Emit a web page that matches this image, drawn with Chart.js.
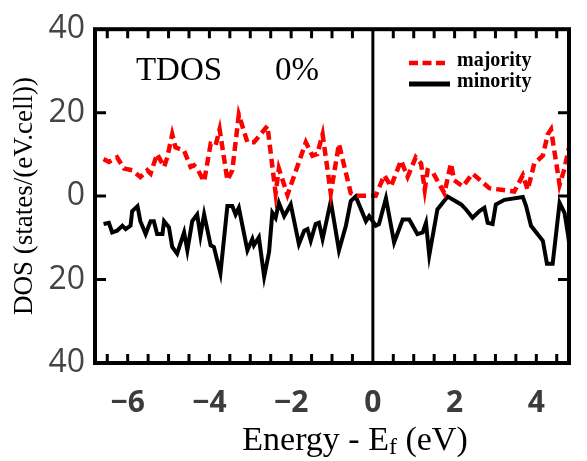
<!DOCTYPE html>
<html>
<head>
<meta charset="utf-8">
<script src="https://cdn.jsdelivr.net/npm/chart.js@4"></script>
<style>
  html, body { margin: 0; padding: 0; background: #fff; }
  #wrap { width: 587px; height: 461px; }
</style>
</head>
<body>
<div id="wrap"><canvas id="dos"></canvas></div>
<script>
// majority spin (red dashed), energy in eV, DOS in states/(eV.cell)
const majE = [-6.59, -6.46, -6.26, -6.09, -5.89, -5.69, -5.52, -5.44, -5.28, -5.11, -5.03, -4.91, -4.83, -4.62,
  -4.46, -4.38, -4.30, -4.13, -3.97, -3.85, -3.75, -3.56, -3.44, -3.28, -3.07, -2.91, -2.58, -2.38, -2.30,
  -2.09, -1.64, -1.48, -1.36, -1.23, -1.03, -0.83, -0.54, -0.42, 0.07, 0.28, 0.44, 0.69, 0.85, 1.05, 1.18,
  1.27, 1.34, 1.46, 1.75, 1.91, 1.99, 2.20, 2.44, 2.85, 3.14, 3.46, 3.67, 3.79, 3.95, 4.16, 4.28, 4.36,
  4.57, 4.69, 4.78, 4.80];
const majDos = [8.9, 8.2, 9.3, 6.6, 6.2, 4.6, 6.2, 5.4, 10.1, 7.0, 9.3, 14.8, 11.7, 10.9,
  7.0, 7.4, 6.6, 3.5, 12.5, 12.1, 16.0, 3.8, 6.2, 19.5, 12.9, 12.9, 16.8, 0.7, 6.6,
  0.3, 12.9, 9.7, 10.1, 14.8, 0.7, 12.5, 0.7, 0.1, 0.1, 5.0, 2.3, 8.5, 4.6, 9.3, 7.8,
  1.5, 6.2, 5.8, 0.7, 7.8, 3.8, 2.3, 5.4, 1.9, 1.5, 1.1, 5.0, 1.5, 7.8, 9.7, 14.8, 16.0,
  2.7, 6.6, 10.9, 11.5];

// minority spin (black solid), plotted downward
const minE = [-6.59, -6.46, -6.38, -6.26, -6.13, -6.05, -5.93, -5.89, -5.76, -5.69, -5.56, -5.44, -5.36, -5.28,
  -5.15, -5.11, -4.99, -4.91, -4.79, -4.62, -4.54, -4.42, -4.30, -4.22, -4.13, -3.97, -3.89, -3.73, -3.56,
  -3.44, -3.36, -3.28, -3.07, -2.95, -2.91, -2.79, -2.66, -2.54, -2.46, -2.38, -2.30, -2.17, -2.01, -1.81,
  -1.68, -1.60, -1.52, -1.40, -1.32, -1.23, -1.03, -0.83, -0.66, -0.54, -0.42, -0.17, -0.09, 0.07, 0.15,
  0.32, 0.52, 0.73, 0.89, 1.09, 1.22, 1.30, 1.38, 1.58, 1.83, 2.16, 2.28, 2.44, 2.61, 2.73, 2.81, 2.93,
  3.01, 3.22, 3.67, 3.75, 3.87, 4.16, 4.26, 4.40, 4.57, 4.69, 4.78, 4.80];
const minDos = [-6.7, -6.4, -8.7, -8.3, -7.1, -7.9, -7.1, -3.6, -2.4, -6.0, -9.1, -6.0, -6.0, -9.1,
  -9.1, -6.0, -7.5, -12.2, -13.8, -8.7, -13.0, -6.0, -4.4, -9.5, -4.4, -11.8, -12.2, -18.5, -2.4,
  -2.4, -4.4, -2.8, -13.0, -10.3, -11.8, -9.9, -19.3, -13.4, -4.0, -5.2, -1.6, -4.8, -2.0, -11.5,
  -8.3, -7.9, -10.7, -6.7, -6.4, -10.3, -1.2, -13.0, -7.1, -1.2, -0.1, -6.0, -4.8, -7.1, -6.7,
  -0.5, -11.1, -5.6, -5.6, -9.1, -8.7, -6.4, -14.2, -3.2, -0.1, -2.0, -3.2, -5.2, -3.6, -2.8, -6.4, -6.7,
  -2.0, -0.9, -0.2, -2.4, -7.1, -10.7, -16.2, -16.2, -1.6, -4.0, -9.5, -11.1];

const xTicks = [-6, -4, -2, 0, 2, 4];
const xMinorTicks = [-6.5, -6, -5.5, -5, -4.5, -4, -3.5, -3, -2.5, -2, -1.5, -1, -0.5, 0.5, 1, 1.5, 2, 2.5, 3, 3.5, 4, 4.5];
const yTicks = [-40, -20, 0, 20, 40];

const serif = '"Liberation Serif", "Times New Roman", serif';

// frame, inward ticks, zero line, annotations and legend
const decor = {
  id: 'decor',
  afterDatasetsDraw(chart) {
    const { ctx, chartArea: a, scales: { x, y } } = chart;
    ctx.save();
    ctx.strokeStyle = '#000';
    // zero line
    ctx.lineWidth = 3;
    const x0 = x.getPixelForValue(0);
    ctx.beginPath(); ctx.moveTo(x0, a.top); ctx.lineTo(x0, a.bottom); ctx.stroke();
    // ticks
    ctx.lineWidth = 3;
    ctx.beginPath();
    xMinorTicks.forEach(v => {
      const px = x.getPixelForValue(v);
      ctx.moveTo(px, a.top); ctx.lineTo(px, a.top + 9);
      ctx.moveTo(px, a.bottom); ctx.lineTo(px, a.bottom - 9);
    });
    [-20, 0, 20].forEach(v => {
      const py = y.getPixelForValue(v);
      ctx.moveTo(a.left, py); ctx.lineTo(a.left + 11, py);
      ctx.moveTo(a.right, py); ctx.lineTo(a.right - 11, py);
    });
    ctx.stroke();
    // frame
    ctx.lineWidth = 4;
    ctx.strokeRect(a.left, a.top, a.right - a.left, a.bottom - a.top);

    // labels inside the plot
    ctx.fillStyle = '#000';
    ctx.textBaseline = 'alphabetic';
    ctx.textAlign = 'center';
    ctx.font = '33px ' + serif;
    ctx.fillText('TDOS', 179, 80);
    ctx.fillText('0%', 297, 80);

    // legend
    const ds = chart.data.datasets;
    ctx.lineWidth = 4.5;
    ctx.strokeStyle = ds[0].borderColor;
    ctx.setLineDash([9, 4.5]);
    ctx.beginPath(); ctx.moveTo(409, 63); ctx.lineTo(446, 63); ctx.stroke();
    ctx.setLineDash([]);
    ctx.lineWidth = 5;
    ctx.strokeStyle = ds[1].borderColor;
    ctx.beginPath(); ctx.moveTo(409, 84); ctx.lineTo(450, 84); ctx.stroke();
    ctx.textAlign = 'left';
    ctx.textBaseline = 'middle';
    ctx.font = 'bold 20px ' + serif;
    ctx.fillText(ds[0].label, 457, 61);
    ctx.fillText(ds[1].label, 457, 82);

    // x axis title with subscript
    ctx.textBaseline = 'alphabetic';
    const p1 = 'Energy - E', p2 = 'f', p3 = ' (eV)';
    ctx.font = '34px ' + serif; const w1 = ctx.measureText(p1).width, w3 = ctx.measureText(p3).width;
    ctx.font = '24px ' + serif; const w2 = ctx.measureText(p2).width;
    let sx = 355 - (w1 + w2 + w3) / 2;
    ctx.font = '34px ' + serif; ctx.fillText(p1, sx, 450); sx += w1;
    ctx.font = '24px ' + serif; ctx.fillText(p2, sx, 454); sx += w2;
    ctx.font = '34px ' + serif; ctx.fillText(p3, sx, 450);
    ctx.restore();
  }
};

new Chart(document.getElementById('dos'), {
  type: 'line',
  data: {
    datasets: [
      {
        label: 'majority',
        data: majE.map((e, i) => ({ x: e, y: majDos[i] })),
        borderColor: '#ff0000',
        borderWidth: 4.5,
        borderDash: [9, 5],
        pointRadius: 0,
        tension: 0,
        fill: false
      },
      {
        label: 'minority',
        data: minE.map((e, i) => ({ x: e, y: minDos[i] })),
        borderColor: '#000000',
        borderWidth: 4,
        pointRadius: 0,
        tension: 0,
        fill: false
      }
    ]
  },
  options: {
    responsive: true,
    maintainAspectRatio: false,
    animation: false,
    layout: { padding: { left: 0, right: 18, top: 23, bottom: 0 } },
    plugins: { legend: { display: false }, tooltip: { enabled: false } },
    scales: {
      x: {
        type: 'linear',
        min: -6.8,
        max: 4.8,
        afterBuildTicks: s => { s.ticks = xTicks.map(v => ({ value: v })); },
        afterFit: s => { s.height = 98; },
        grid: { display: false, drawTicks: false },
        border: { display: false },
        ticks: {
          padding: 22,
          color: '#3c3c3c',
          font: { family: '"Open Sans"', size: 30, weight: 'bold' },
          callback: v => (v < 0 ? '\u2212' + Math.abs(v) : String(v))
        }
      },
      y: {
        min: -40,
        max: 40,
        afterBuildTicks: s => { s.ticks = yTicks.map(v => ({ value: v })); },
        afterFit: s => { s.width = 95; },
        grid: { display: false, drawTicks: false },
        border: { display: false },
        title: {
          display: true,
          text: 'DOS (states/(eV.cell))',
          color: '#000',
          font: { family: serif, size: 27 },
          padding: { top: 9, bottom: 0 }
        },
        ticks: {
          padding: 10,
          color: '#444',
          font: { family: '"Open Sans"', size: 32 },
          callback: v => String(Math.abs(v))
        }
      }
    }
  },
  plugins: [decor]
});
</script>
</body>
</html>
